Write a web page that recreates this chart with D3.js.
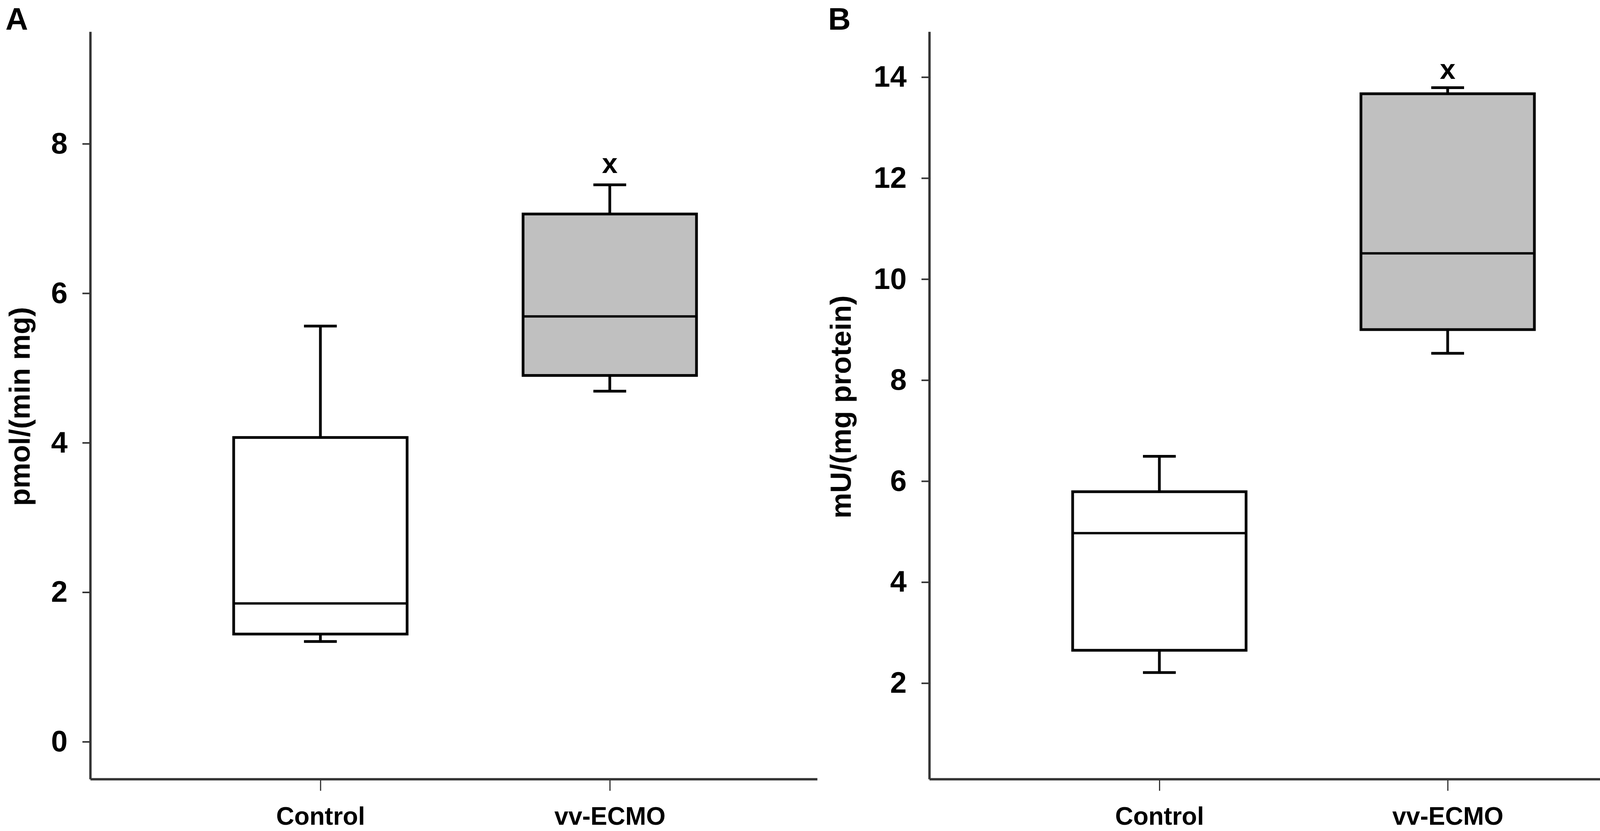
<!DOCTYPE html>
<html>
<head>
<meta charset="utf-8">
<script src="https://cdn.jsdelivr.net/npm/d3@7"></script>
<style>
body { margin: 0; background: #fff; }
.axis path, .axis line { stroke: #333; }
.axis text { font-family: "Liberation Sans", Arial, sans-serif; font-weight: bold; fill: #000; }
</style>
</head>
<body>
<div class="boxes"></div>
<script>
// Data ---------------------------------------------------------------------
const groups = ["Control", "vv-ECMO"];
const boxFills = ["#ffffff", "#c0c0c0"];

// Panel A: pmol/(min mg)
const aLow = [1.34, 4.69];
const aQ1 = [1.44, 4.90];
const aMedian = [1.85, 5.69];
const aQ3 = [4.07, 7.06];
const aHigh = [5.56, 7.45];
const aMark = [null, 7.72];
const aTicks = [0, 2, 4, 6, 8];

// Panel B: mU/(mg protein)
const bLow = [2.21, 8.53];
const bQ1 = [2.65, 9.00];
const bMedian = [4.97, 10.51];
const bQ3 = [5.79, 13.67];
const bHigh = [6.49, 13.79];
const bMark = [null, 14.13];
const bTicks = [2, 4, 6, 8, 10, 12, 14];

// SVG Dimensions ---------------------------------------------------------------------
const width = 4317;
const height = 2128;
const plotTop = 81;
const plotBottom = 1995;
const boxWidth = 444;
const capWidth = 84;
const font = "Liberation Sans, Arial, sans-serif";

const svg = d3.select(".boxes")
  .append("svg")
  .attr("width", width)
  .attr("height", height);

svg.append("rect")
  .attr("width", width)
  .attr("height", height)
  .attr("fill", "#fff");

// Draw one panel ---------------------------------------------------------------------
function drawPanel(p) {
  const xScale = d3.scalePoint()
    .domain(groups)
    .range([p.left, p.right])
    .padding(p.pad)
    .align(p.align);

  const yScale = d3.scaleLinear()
    .domain(p.yDomain)
    .range([plotBottom, plotTop]);

  const rows = groups.map((g, i) => ({
    g, i,
    low: p.low[i], q1: p.q1[i], med: p.median[i], q3: p.q3[i], high: p.high[i], mark: p.mark[i]
  }));

  const box = svg.append("g").selectAll("g")
    .data(rows)
    .join("g");

  // whiskers
  box.append("line")
    .attr("x1", d => xScale(d.g)).attr("x2", d => xScale(d.g))
    .attr("y1", d => yScale(d.q3)).attr("y2", d => yScale(d.high))
    .attr("stroke", "#000").attr("stroke-width", 7);
  box.append("line")
    .attr("x1", d => xScale(d.g)).attr("x2", d => xScale(d.g))
    .attr("y1", d => yScale(d.q1)).attr("y2", d => yScale(d.low))
    .attr("stroke", "#000").attr("stroke-width", 7);
  box.append("line")
    .attr("x1", d => xScale(d.g) - capWidth / 2).attr("x2", d => xScale(d.g) + capWidth / 2)
    .attr("y1", d => yScale(d.high)).attr("y2", d => yScale(d.high))
    .attr("stroke", "#000").attr("stroke-width", 7);
  box.append("line")
    .attr("x1", d => xScale(d.g) - capWidth / 2).attr("x2", d => xScale(d.g) + capWidth / 2)
    .attr("y1", d => yScale(d.low)).attr("y2", d => yScale(d.low))
    .attr("stroke", "#000").attr("stroke-width", 7);

  // boxes
  box.append("rect")
    .attr("x", d => xScale(d.g) - boxWidth / 2)
    .attr("width", boxWidth)
    .attr("y", d => yScale(d.q3))
    .attr("height", d => yScale(d.q1) - yScale(d.q3))
    .attr("fill", d => boxFills[d.i])
    .attr("stroke", "#000")
    .attr("stroke-width", 7);

  // median
  box.append("line")
    .attr("x1", d => xScale(d.g) - boxWidth / 2).attr("x2", d => xScale(d.g) + boxWidth / 2)
    .attr("y1", d => yScale(d.med)).attr("y2", d => yScale(d.med))
    .attr("stroke", "#000").attr("stroke-width", 6);

  // significance mark
  box.filter(d => d.mark != null)
    .append("text")
    .attr("x", d => xScale(d.g))
    .attr("y", d => yScale(d.mark))
    .attr("dy", "0.3em")
    .attr("text-anchor", "middle")
    .attr("font-family", font)
    .attr("font-weight", "bold")
    .attr("font-size", 72)
    .text("x");

  // axes
  const yAxis = d3.axisLeft(yScale)
    .tickValues(p.ticks)
    .tickSize(20)
    .tickSizeOuter(0)
    .tickPadding(38)
    .tickFormat(d3.format("d"));
  const yG = svg.append("g")
    .attr("class", "axis")
    .attr("transform", `translate(${p.left},0)`)
    .call(yAxis);
  yG.select(".domain").attr("stroke-width", 6);
  yG.selectAll(".tick line").attr("stroke-width", 4);
  yG.selectAll("text").attr("font-size", 76);

  const xAxis = d3.axisBottom(xScale)
    .tickSize(30)
    .tickSizeOuter(0)
    .tickPadding(42);
  const xG = svg.append("g")
    .attr("class", "axis")
    .attr("transform", `translate(0,${plotBottom})`)
    .call(xAxis);
  xG.select(".domain").attr("stroke-width", 6);
  xG.selectAll(".tick line").attr("stroke-width", 3);
  xG.selectAll("text").attr("font-size", 64);

  // axis title
  svg.append("text")
    .attr("transform", `translate(${p.titleX},${p.titleY}) rotate(-90)`)
    .attr("text-anchor", "middle")
    .attr("dy", "0.35em")
    .attr("font-family", font)
    .attr("font-weight", "bold")
    .attr("font-size", 74)
    .text(p.title);

  // panel letter
  svg.append("text")
    .attr("x", p.letterX)
    .attr("y", 76)
    .attr("font-family", font)
    .attr("font-weight", "bold")
    .attr("font-size", 80)
    .text(p.letter);
}

drawPanel({
  left: 231, right: 2092, pad: 0.756, align: 0.526,
  yDomain: [-0.5, 9.5], ticks: aTicks,
  low: aLow, q1: aQ1, median: aMedian, q3: aQ3, high: aHigh, mark: aMark,
  title: "pmol/(min mg)", titleX: 50, titleY: 1041, letter: "A", letterX: 14
});

drawPanel({
  left: 2379, right: 4295, pad: 0.798, align: 0.5,
  yDomain: [0.1, 14.9], ticks: bTicks,
  low: bLow, q1: bQ1, median: bMedian, q3: bQ3, high: bHigh, mark: bMark,
  title: "mU/(mg protein)", titleX: 2152, titleY: 1042, letter: "B", letterX: 2120
});
</script>
</body>
</html>
